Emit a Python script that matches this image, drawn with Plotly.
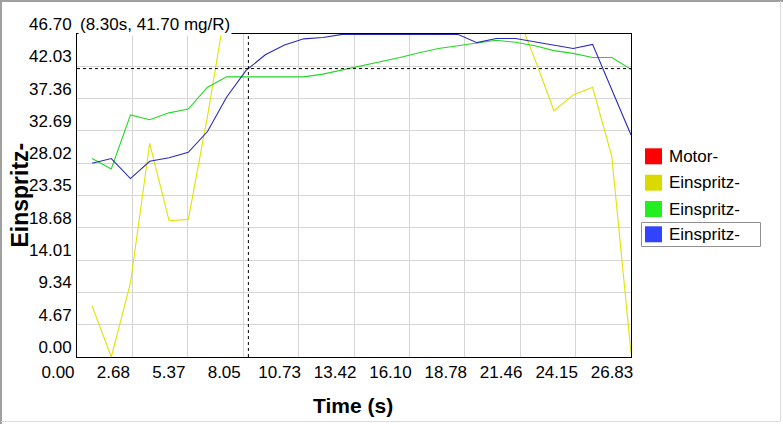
import plotly.graph_objects as go

# ---------------- data ----------------
time_s = [0.73, 1.66, 2.59, 3.52, 4.46, 5.39, 6.32, 7.25, 8.18, 9.12,
          10.05, 10.98, 11.91, 12.85, 13.78, 14.71, 15.64, 16.58, 17.51, 18.44,
          19.37, 20.30, 21.24, 22.17, 23.10, 24.03, 24.97, 25.90, 26.83]

motor = []  # "Motor-" series: nothing visible in the chart range

einspritz_yellow = [7.4, 0.0, 10.7, 30.9, 19.7, 19.9, 34.8, 51.5, 56.0, 58.0,
                    59.0, 60.0, 60.5, 61.0, 61.0, 60.5, 60.0, 59.0, 58.0, 56.5,
                    55.0, 53.0, 50.2, 43.1, 35.6, 37.9, 39.0, 29.0, 0.6]

einspritz_green = [28.7, 27.2, 35.0, 34.3, 35.3, 35.85, 39.0, 40.5, 40.5, 40.5,
                   40.5, 40.5, 40.9, 41.5, 42.1, 42.7, 43.3, 44.0, 44.6, 45.0,
                   45.4, 45.8, 45.5, 45.0, 44.3, 43.9, 43.3, 43.3, 41.6]

einspritz_blue = [28.0, 28.7, 25.8, 28.3, 28.8, 29.6, 32.6, 37.6, 41.4, 43.7,
                  45.1, 46.0, 46.2, 46.65, 46.65, 46.65, 46.65, 46.65, 46.65, 46.65,
                  45.45, 46.05, 46.05, 45.6, 45.1, 44.6, 45.2, 38.6, 32.1]

series_names = ["Motor-", "Einspritz-", "Einspritz-", "Einspritz-"]
series_values = [motor, einspritz_yellow, einspritz_green, einspritz_blue]
line_colors = ["#ff0000", "#e2e200", "#22d822", "#2a2ab8"]
legend_colors = ["#ff0000", "#dada00", "#22ee22", "#3344ff"]

x_ticks = [0.00, 2.68, 5.37, 8.05, 10.73, 13.42, 16.10, 18.78, 21.46, 24.15, 26.83]
y_ticks = [0.00, 4.67, 9.34, 14.01, 18.68, 23.35, 28.02, 32.69, 37.36, 42.03, 46.70]

cursor_time = 8.30
cursor_value = 41.70

x_title = "Time (s)"
y_title = "Einspritz-"

# ---------------- layout geometry (pixels) ----------------
W, H = 783, 424
PL, PR, PT, PB = 77, 631, 34, 357  # plot area edges


def px_x(p):
    return (p - PL) / (PR - PL)


def px_y(p):
    return (PB - p) / (PB - PT)


FONT = "Liberation Sans, Arial, sans-serif"

fig = go.Figure()
for name, vals, col in zip(series_names, series_values, line_colors):
    fig.add_trace(go.Scatter(
        x=time_s[:len(vals)], y=vals, name=name, mode="lines",
        line=dict(color=col, width=1.1), showlegend=False,
        hoverinfo="skip"))

shapes = []
# crosshair
shapes.append(dict(type="line", xref="x", yref="paper", x0=cursor_time, x1=cursor_time,
                   y0=0, y1=1, line=dict(color="black", width=1, dash="3px,3px"), layer="above"))
shapes.append(dict(type="line", xref="paper", yref="y", x0=0, x1=1,
                   y0=cursor_value, y1=cursor_value,
                   line=dict(color="black", width=1, dash="3px,3px"), layer="above"))

# outer frame of the window
shapes.append(dict(type="line", xref="paper", yref="paper", x0=px_x(0), x1=px_x(W),
                   y0=px_y(1), y1=px_y(1), line=dict(color="#a0a0a0", width=2)))
shapes.append(dict(type="line", xref="paper", yref="paper", x0=px_x(1), x1=px_x(1),
                   y0=px_y(0), y1=px_y(H), line=dict(color="#a0a0a0", width=2)))
shapes.append(dict(type="line", xref="paper", yref="paper", x0=px_x(780.5), x1=px_x(780.5),
                   y0=px_y(1), y1=px_y(421.5), line=dict(color="#dcdcdc", width=1)))
shapes.append(dict(type="line", xref="paper", yref="paper", x0=px_x(1), x1=px_x(780.5),
                   y0=px_y(421.5), y1=px_y(421.5), line=dict(color="#dcdcdc", width=1)))

annotations = []
# custom legend
legend_y = [156.3, 182.7, 209.0, 234.3]
for i, (name, col) in enumerate(zip(series_names, legend_colors)):
    cy = legend_y[i]
    shapes.append(dict(type="rect", xref="paper", yref="paper",
                       x0=px_x(645), x1=px_x(662), y0=px_y(cy - 8), y1=px_y(cy + 8),
                       fillcolor=col, line=dict(width=0)))
    annotations.append(dict(text=name, xref="paper", yref="paper", x=px_x(667), y=px_y(cy),
                            xanchor="left", yanchor="middle", showarrow=False,
                            font=dict(family=FONT, size=17, color="black")))
# selection box around last legend item
shapes.append(dict(type="rect", xref="paper", yref="paper",
                   x0=px_x(641.5), x1=px_x(760.5), y0=px_y(246.5), y1=px_y(222.5),
                   line=dict(color="#909090", width=1), fillcolor="rgba(0,0,0,0)"))

# cursor read-out
annotations.append(dict(text=f"({cursor_time:.2f}s, {cursor_value:.2f} mg/R)",
                        xref="paper", yref="paper", x=px_x(78), y=px_y(25),
                        xanchor="left", yanchor="middle", showarrow=False,
                        bgcolor="white", borderpad=1,
                        font=dict(family=FONT, size=17, color="black")))
# axis titles
annotations.append(dict(text=f"<b>{y_title}</b>", xref="paper", yref="paper",
                        x=px_x(19), y=0.5, xanchor="center", yanchor="middle",
                        textangle=-90, showarrow=False,
                        font=dict(family=FONT, size=23, color="black")))
annotations.append(dict(text=f"<b>{x_title}</b>", xref="paper", yref="paper",
                        x=px_x(353), y=px_y(405.5), xanchor="center", yanchor="middle",
                        showarrow=False,
                        font=dict(family=FONT, size=21, color="black")))

fig.update_layout(
    width=W, height=H, autosize=False,
    margin=dict(l=PL, r=W - PR, t=PT, b=H - PB, pad=0),
    paper_bgcolor="white", plot_bgcolor="white",
    showlegend=False,
    shapes=shapes, annotations=annotations,
    xaxis=dict(range=[0, x_ticks[-1]], tickmode="array", tickvals=x_ticks,
               ticktext=[f"{v:.2f}" for v in x_ticks],
               showgrid=True, gridcolor="#d6d6d6", gridwidth=1,
               showline=True, linecolor="black", linewidth=1, mirror=True,
               ticks="", zeroline=False, ticklabelshift=-19, ticklabelstandoff=0,
               tickfont=dict(family=FONT, size=17, color="black")),
    yaxis=dict(range=[0, y_ticks[-1]], tickmode="array", tickvals=y_ticks,
               ticktext=[f"{v:.2f}" for v in y_ticks],
               showgrid=True, gridcolor="#d6d6d6", gridwidth=1,
               showline=True, linecolor="black", linewidth=1, mirror=True,
               ticks="", zeroline=False, ticklabelshift=-10, ticklabelstandoff=1,
               tickfont=dict(family=FONT, size=17, color="black")),
)

fig.write_html("out.html")
